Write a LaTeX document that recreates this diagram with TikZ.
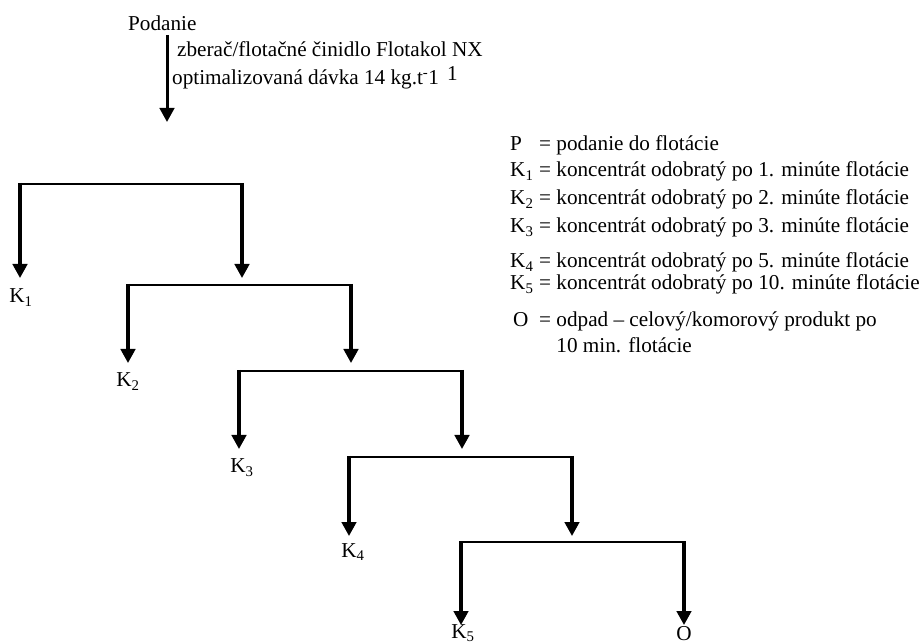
\documentclass[tikz,border=0pt]{standalone}
\usepackage{fontspec}
\setmainfont{Liberation Serif}
\usetikzlibrary{arrows.meta}
\newcommand\legkey[1]{\makebox[29pt][l]{#1}}
\begin{document}
\begin{tikzpicture}[x=1pt,y=-1pt,
  txt/.style={inner sep=0pt, anchor=base west, font=\fontsize{21.2}{25}\selectfont},
  lbl/.style={inner sep=0pt, anchor=base, font=\fontsize{21.2}{25}\selectfont},
  bar/.style={line width=2.1pt, line cap=rect},
  arr/.style={line width=3.1pt, shorten <=-1pt, -{Triangle[width=14.5pt,length=14pt]}},
]
\useasboundingbox (0,0) rectangle (922,644);

% feed
\node[txt] (feed) at (128,31) {Podanie};
\coordinate (feedtop) at (167,35);
\coordinate (feedtip) at (167,122);
\node[txt] (reag) at (177,57) {zberač/flotačné činidlo Flotakol NX};
\node[txt] (dose) at (172,85) {optimalizovaná dávka 14 kg.t\textsuperscript{-}1\hspace{8pt}\raisebox{4pt}{1}};
\draw[line width=3pt, -{Triangle[width=14.5pt,length=14pt]}] (feedtop) -- (feedtip);

% bars and tips
\coordinate (b1l) at (20,184);  \coordinate (b1r) at (242,184);
\coordinate (t1l) at (20,278);  \coordinate (t1r) at (242,278);
\coordinate (b2l) at (128,285); \coordinate (b2r) at (351,285);
\coordinate (t2l) at (128,363); \coordinate (t2r) at (351,363);
\coordinate (b3l) at (239,371); \coordinate (b3r) at (462,371);
\coordinate (t3l) at (239,449); \coordinate (t3r) at (462,449);
\coordinate (b4l) at (349,457); \coordinate (b4r) at (572,457);
\coordinate (t4l) at (349,536); \coordinate (t4r) at (572,536);
\coordinate (b5l) at (461,542); \coordinate (b5r) at (684,542);
\coordinate (t5l) at (461,625); \coordinate (t5r) at (684,625);

\foreach \i in {1,...,5}{
  \draw[bar] (b\i l) -- (b\i r);
  \draw[arr] (b\i l) -- (t\i l);
  \draw[arr] (b\i r) -- (t\i r);
}

% product labels
\node[lbl] (K1) at (21,303) {K\textsubscript{1}};
\node[lbl] (K2) at (128,387) {K\textsubscript{2}};
\node[lbl] (K3) at (242,473) {K\textsubscript{3}};
\node[lbl] (K4) at (353,557) {K\textsubscript{4}};
\node[lbl] (K5) at (463,638) {K\textsubscript{5}};
\node[lbl] (O)  at (684,640) {O};

% legend
\node[txt] (lp)  at (510,151) {\legkey{P}= podanie do flotácie};
\node[txt] (lk1) at (510,177) {\legkey{K\textsubscript{1}}= koncentrát odobratý po 1. minúte flotácie};
\node[txt] (lk2) at (510,205) {\legkey{K\textsubscript{2}}= koncentrát odobratý po 2. minúte flotácie};
\node[txt] (lk3) at (510,233) {\legkey{K\textsubscript{3}}= koncentrát odobratý po 3. minúte flotácie};
\node[txt] (lk4) at (510,268) {\legkey{K\textsubscript{4}}= koncentrát odobratý po 5. minúte flotácie};
\node[txt] (lk5) at (510,290) {\legkey{K\textsubscript{5}}= koncentrát odobratý po 10. minúte flotácie};
\node[txt] (lo)  at (510,327) {\legkey{\hspace{3pt}O}= odpad – celový/komorový produkt po};
\node[txt] (lo2) at (510,353) {\legkey{}\phantom{= }10 min. flotácie};
\end{tikzpicture}
\end{document}
